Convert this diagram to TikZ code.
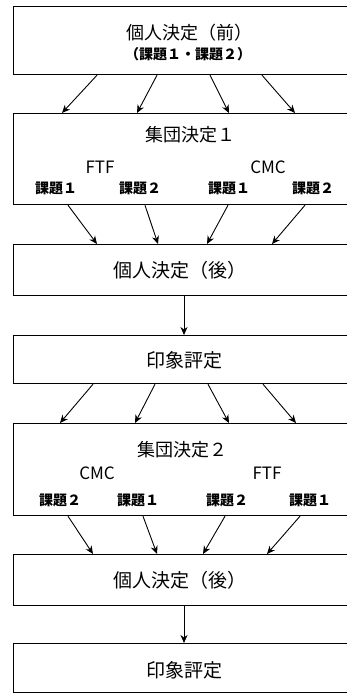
\documentclass[tikz,border=0pt]{standalone}
\usepackage{fontspec}
\setmainfont{Noto Sans CJK JP}
\usetikzlibrary{arrows.meta}
\tikzset{
  box/.style={draw, line width=1.2pt, rectangle, anchor=north west, minimum width=337pt, inner sep=0pt},
  arr/.style={line width=0.9pt, -{Stealth[length=8pt,width=7pt,inset=2.5pt]}},
  big/.style={font=\fontsize{18}{20}\selectfont, inner sep=0pt},
  mid/.style={font=\fontsize{17}{19}\selectfont, inner sep=0pt},
  task/.style={font=\fontsize{14}{16}\selectfont\bfseries, inner sep=0pt}
}
\begin{document}
\begin{tikzpicture}[x=1pt,y=-1pt]
\useasboundingbox (0,0) rectangle (347,694);
% boxes
\node[box, minimum height=68pt] (b1) at (13,6) {};
\node[box, minimum height=91pt] (b2) at (13,113) {};
\node[box, minimum height=51pt] (b3) at (13,244) {};
\node[box, minimum height=48pt] (b4) at (13,335) {};
\node[box, minimum height=92pt] (b5) at (13,423) {};
\node[box, minimum height=51pt] (b6) at (13,554) {};
\node[box, minimum height=49pt] (b7) at (13,643) {};
% texts
\node[big] (t1) at (189,33) {個人決定（前）};
\node[task] (t1b) at (188,54) {（課題１・課題２）};
\node[big] (t2) at (190,135) {集団決定１};
\node[mid] (t2a) at (100,167) {FTF};
\node[mid] (t2b) at (268,167) {CMC};
\node[task] (t2c) at (56,188) {課題１};
\node[task] (t2d) at (140,188) {課題２};
\node[task] (t2e) at (229,188) {課題１};
\node[task] (t2f) at (313,188) {課題２};
\node[big, font=\fontsize{19}{21}\selectfont] (t3) at (180,270) {個人決定（後）};
\node[big, font=\fontsize{19}{21}\selectfont] (t4) at (184,360) {印象評定};
\node[big] (t5) at (182,450) {集団決定２};
\node[mid] (t5a) at (97,473) {CMC};
\node[mid] (t5b) at (267,473) {FTF};
\node[task] (t5c) at (60,500) {課題２};
\node[task] (t5d) at (138,500) {課題１};
\node[task] (t5e) at (227,500) {課題２};
\node[task] (t5f) at (310,500) {課題１};
\node[big, font=\fontsize{19}{21}\selectfont] (t6) at (180,580) {個人決定（後）};
\node[big, font=\fontsize{19}{21}\selectfont] (t7) at (184,670) {印象評定};
% arrows
\foreach \a/\b in {84/49,144/124,197/216,249/282}
  \draw[arr] ([xshift=\a pt]b1.south west) -- ([xshift=\b pt]b2.north west);
\foreach \a/\b in {55/84,132/145,215/194,292/259}
  \draw[arr] ([xshift=\a pt]b2.south west) -- ([xshift=\b pt]b3.north west);
\draw[arr] ([xshift=171pt]b3.south west) -- ([xshift=171pt]b4.north west);
\foreach \a/\b in {80/47,142/122,195/216,250/283}
  \draw[arr] ([xshift=\a pt]b4.south west) -- ([xshift=\b pt]b5.north west);
\foreach \a/\b in {55/80,130/144,212/190,287/254}
  \draw[arr] ([xshift=\a pt]b5.south west) -- ([xshift=\b pt]b6.north west);
\draw[arr] ([xshift=171pt]b6.south west) -- ([xshift=171pt]b7.north west);
\end{tikzpicture}
\end{document}
